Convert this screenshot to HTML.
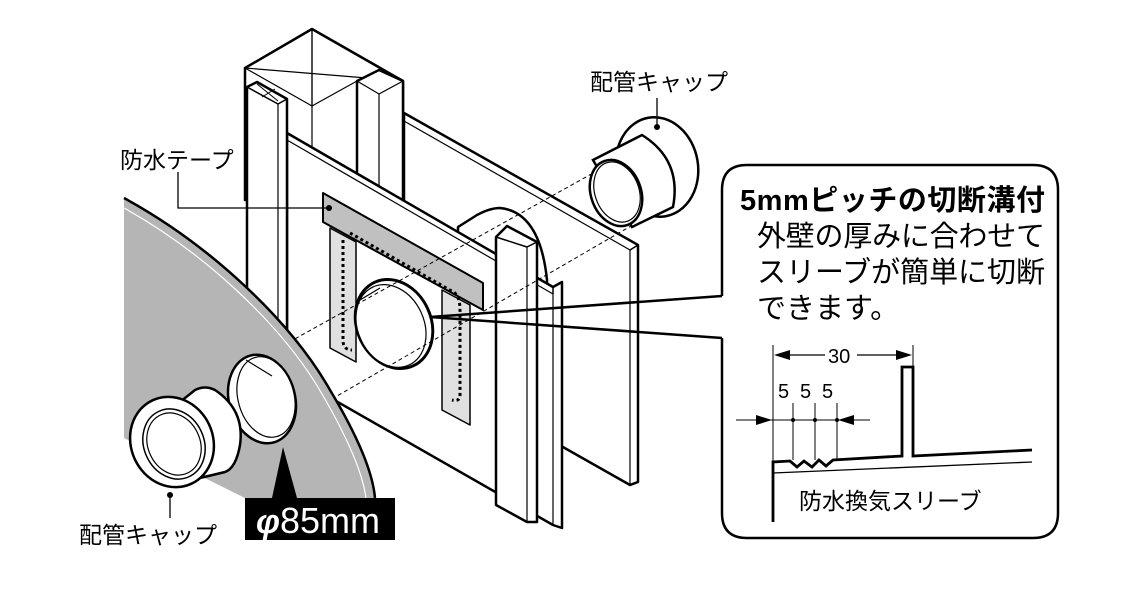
<!DOCTYPE html>
<html><head><meta charset="utf-8"><style>
html,body{margin:0;padding:0;background:#fff;}
svg{display:block;}
text{font-family:"Liberation Sans","Noto Sans CJK JP",sans-serif;}
</style></head><body>
<svg width="1147" height="597" viewBox="0 0 1147 597" xmlns="http://www.w3.org/2000/svg">
<g stroke="#000" stroke-width="2.5" stroke-linejoin="round" fill="#fff">
<!-- big post behind -->
<polygon points="245,68 312,29 403,81 403,200 245,200"/>
<line x1="312" y1="29" x2="312" y2="200" stroke-width="1.2"/>
<line x1="245" y1="68" x2="403" y2="81" stroke-width="1.2"/>
<line x1="312" y1="29" x2="312" y2="106" stroke-width="1.2"/>
<polyline points="245,68 312,106 357,81" fill="none" stroke-width="1.2"/>
<!-- second post -->
<polygon points="357,81 379,70 403,81 403,200 357,200"/>
<polyline points="357,81 379,94 403,81" fill="none" stroke-width="1.2"/>
<line x1="379" y1="94" x2="379" y2="200" stroke-width="1.2"/>
<!-- back panel -->
<polygon points="404,113 638,245 638,482 630,485 404,357"/>
<polyline points="404,121 630,250 630,485" fill="none" stroke-width="1.2"/>
<line x1="630" y1="250" x2="638" y2="245" stroke-width="1.5"/>
<!-- hump -->
<path d="M458,227 L477,215 Q490,208 500,208 Q540,212 547,280 L547,300 L458,300 Z"/>
<!-- front panel -->
<polygon points="287,133 553,287 562,282 562,528 553,525 287,373"/>
<polyline points="287,140 553,294 553,525" fill="none" stroke-width="1.2"/>
<line x1="553" y1="287" x2="553" y2="294" stroke-width="1.5"/>
<!-- left narrow post -->
<polygon points="247,87 257,82 287,99 287,420 247,420"/>
<polyline points="247,87 278,104 287,99" fill="none" stroke-width="1.5"/>
<line x1="278" y1="104" x2="278" y2="420" stroke-width="1.2"/>
<line x1="257" y1="84" x2="278" y2="101" stroke-width="1"/>
<line x1="262" y1="97" x2="275" y2="89" stroke-width="1"/>
<!-- tape -->
<polygon points="330,228 356,242 356,362 330,348" fill="#e0e0e0" stroke-width="1.5"/>
<polygon points="442,290 470,305 470,425 442,410" fill="#e0e0e0" stroke-width="1.5"/>
<polygon points="323,193 483,283 483,310 323,222" fill="#c0c0c0" stroke-width="2"/>
<path d="M343,240 L343,340 Q343,350 352,350 M350,233 L455,293 Q460,298 460,310 L460,395 Q460,402 452,400" fill="none" stroke-dasharray="3,3" stroke-width="3"/>
<!-- sleeve -->
<ellipse cx="394" cy="324" rx="37" ry="46" transform="rotate(-25 394 324)" stroke-width="3"/>
<ellipse cx="391" cy="326" rx="33" ry="43" transform="rotate(-25 391 326)" stroke-width="1.2"/>
<line x1="360" y1="300" x2="380" y2="288" stroke-width="1.2"/>
<!-- right post -->
<polygon points="496,237 507,226 537,242 537,522 527,522 496,505"/>
<line x1="527" y1="247" x2="527" y2="522" stroke-width="1.2"/>
<line x1="496" y1="237" x2="527" y2="247" stroke-width="1.5"/>
<line x1="527" y1="247" x2="537" y2="242" stroke-width="1.5"/>
</g>
<!-- dashed axes -->
<g stroke="#000" stroke-width="1" stroke-dasharray="4,3" fill="none">
<line x1="185" y1="400" x2="595" y2="172"/>
<line x1="235" y1="455" x2="650" y2="215"/>
</g>
<!-- gray wall -->
<path d="M124,198 C210,245 290,320 330,390 C360,440 373,475 375,498 L245,498 L124,438 Z" fill="#b5b5b5" stroke="none"/>
<path d="M124,198 C210,245 290,320 330,390 C360,440 373,475 375,498" fill="none" stroke="#000" stroke-width="2.5"/>
<path d="M124,208 C205,253 283,326 322,394 C350,442 363,476 366,498" fill="none" stroke="#fff" stroke-width="1.2"/>
<!-- ring -->
<g stroke="#000" stroke-width="2.5" fill="#fff">
<ellipse cx="262" cy="399" rx="33" ry="45" transform="rotate(-15 262 399)"/>
<ellipse cx="266" cy="397" rx="28" ry="41" transform="rotate(-15 266 397)" stroke-width="1.2"/>
<line x1="246" y1="360" x2="272" y2="376" stroke-width="1.2"/>
<!-- lower cap tube -->
<path d="M180,402 L195,390 Q205,385 215,390 Q245,410 240,445 Q236,468 225,472 L200,478 Z"/>
<!-- flange -->
<ellipse cx="172" cy="442" rx="41" ry="46" transform="rotate(-25 172 442)"/>
<ellipse cx="174" cy="444" rx="30" ry="36" transform="rotate(-25 174 444)" stroke-width="1.5"/>
<ellipse cx="174" cy="444" rx="26" ry="32" transform="rotate(-25 174 444)" stroke-width="1.2"/>
</g>
<!-- upper right cap -->
<g stroke="#000" stroke-width="2.5" fill="#fff">
<ellipse cx="657" cy="167" rx="41" ry="50" transform="rotate(-10 657 167)"/>
<path d="M593,160 L642,135 Q682,160 673,207 L632,227 Z"/>
<ellipse cx="616" cy="193" rx="25" ry="34" transform="rotate(-20 616 193)"/>
<ellipse cx="617" cy="192" rx="22" ry="31" transform="rotate(-20 617 192)" stroke-width="1.2"/>
</g>
<!-- labels & leaders -->
<g stroke="#000" stroke-width="1.3" fill="none">
<polyline points="178,172 178,208 329,208"/>
<line x1="657" y1="98" x2="657" y2="127"/>
<line x1="170" y1="495" x2="170" y2="518"/>
</g>
<g fill="#000"><circle cx="329" cy="208" r="3"/><circle cx="657" cy="127" r="3"/><circle cx="170" cy="495" r="3"/></g>
<text x="590" y="90" font-size="23">配管キャップ</text>
<text x="120" y="168" font-size="23">防水テープ</text>
<text x="79" y="543" font-size="23">配管キャップ</text>
<!-- phi box -->
<polygon points="283,447 272,498 297,498" fill="#000"/>
<rect x="245" y="498" width="150" height="42" fill="#000"/>
<text x="256" y="533" font-size="34" fill="#fff" font-weight="bold" font-style="italic">φ</text>
<text x="280" y="533" font-size="36" fill="#fff">85mm</text>
<!-- callout -->
<path d="M722,296 L722,190 Q722,165 747,165 L1033,165 Q1058,165 1058,190 L1058,513 Q1058,538 1033,538 L747,538 Q722,538 722,513 L722,338" fill="#fff" stroke="#000" stroke-width="2.5"/>
<polyline points="722,296 430,317 722,338" fill="none" stroke="#000" stroke-width="2.5"/>
<text x="740" y="210" font-size="29" font-weight="bold" textLength="305">5mmピッチの切断溝付</text>
<text x="757" y="246" font-size="29" textLength="288">外壁の厚みに合わせて</text>
<text x="757" y="282" font-size="29" textLength="288">スリーブが簡単に切断</text>
<text x="757" y="318" font-size="29">できます。</text>
<!-- dimension drawing -->
<g stroke="#000" fill="none">
<line x1="773" y1="345" x2="773" y2="462" stroke-width="1"/>
<line x1="913" y1="345" x2="913" y2="367" stroke-width="1"/>
<line x1="778" y1="355" x2="825" y2="355" stroke-width="1.2"/>
<line x1="857" y1="355" x2="908" y2="355" stroke-width="1.2"/>
<line x1="736" y1="420" x2="870" y2="420" stroke-width="1"/>
<line x1="793" y1="403" x2="793" y2="460" stroke-width="1"/>
<line x1="815" y1="403" x2="815" y2="460" stroke-width="1"/>
<line x1="837" y1="403" x2="837" y2="460" stroke-width="1"/>
<polyline points="773,522 773,462 790,461 797,467 804,461 812,467 819,460 826,466 833,460 902,456 902,367 913,367 913,456 1032,450" stroke-width="2.8"/>
<line x1="773" y1="473" x2="1032" y2="462" stroke-width="1.3"/>
</g>
<g fill="#000">
<polygon points="774,355 790,350 790,360"/><polygon points="912,355 896,350 896,360"/>
<polygon points="772,420 756,415 756,425"/><polygon points="838,420 854,415 854,425"/>
<circle cx="793" cy="420" r="2"/><circle cx="815" cy="420" r="2"/><circle cx="837" cy="420" r="2"/>
</g>
<text x="828" y="363" font-size="20">30</text>
<text x="778" y="398" font-size="20">5</text>
<text x="800" y="398" font-size="20">5</text>
<text x="822" y="398" font-size="20">5</text>
<text x="799" y="509" font-size="23">防水換気スリーブ</text>
</svg>
</body></html>
